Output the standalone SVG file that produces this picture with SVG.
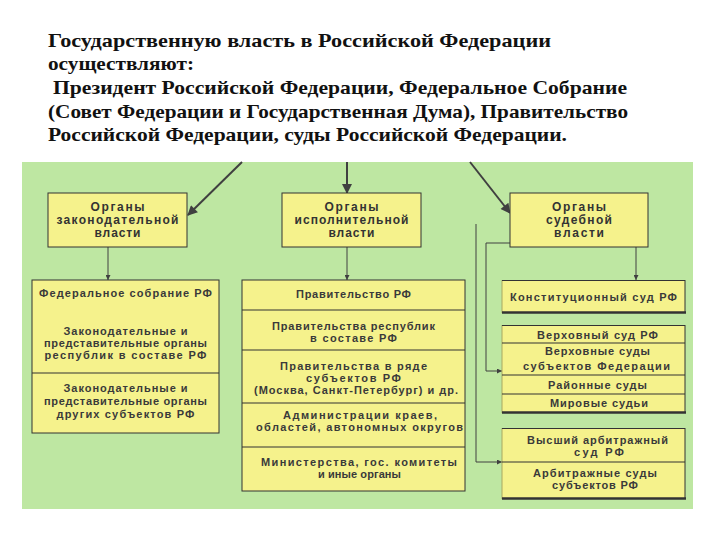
<svg xmlns="http://www.w3.org/2000/svg" width="720" height="540" viewBox="0 0 720 540">
<defs>
<marker id="ah" viewBox="0 0 10 10" refX="10" refY="5" markerWidth="7" markerHeight="5" markerUnits="userSpaceOnUse" orient="auto"><path d="M0,0 L10,5 L0,10 z" fill="#404040"/></marker>
<marker id="ahBig" viewBox="0 0 10 10" refX="9" refY="5" markerWidth="14" markerHeight="10" markerUnits="userSpaceOnUse" orient="auto"><path d="M0,0 L10,5 L0,10 z" fill="#404040"/></marker>
<style>
.h{font-family:"Liberation Serif","DejaVu Serif",serif;font-weight:bold;font-size:19px;fill:#111}
.t{font-family:"Liberation Sans",Arial,sans-serif;font-weight:bold;font-size:12px;fill:#333;text-anchor:middle}
.s{font-family:"Liberation Sans",Arial,sans-serif;font-weight:bold;font-size:11px;fill:#3a3a3a;text-anchor:middle}
.box{fill:#f5f28c;stroke:#333;stroke-width:1}
.fill{fill:#f5f28c}
.ln{stroke:#333;stroke-width:1;fill:none}
.thick{stroke:#333;stroke-width:2.5;fill:none}
.lite{stroke:#a8a860;stroke-width:1;fill:none}
.c{stroke:#404040;stroke-width:1;fill:none}
.cb{stroke:#404040;stroke-width:2;fill:none}
</style>
</defs>
<rect width="720" height="540" fill="#ffffff"/>
<g id="header">
<text class="h" x="48" y="47" textLength="503" lengthAdjust="spacingAndGlyphs">Государственную  власть  в  Российской  Федерации</text>
<text class="h" x="48" y="70" textLength="146" lengthAdjust="spacingAndGlyphs">осуществляют:</text>
<text class="h" x="53" y="94" textLength="574" lengthAdjust="spacingAndGlyphs">Президент Российской Федерации,  Федеральное Собрание</text>
<text class="h" x="48" y="118" textLength="580" lengthAdjust="spacingAndGlyphs">(Совет Федерации и Государственная Дума), Правительство</text>
<text class="h" x="48" y="141" textLength="519" lengthAdjust="spacingAndGlyphs">Российской Федерации, суды Российской Федерации.</text>
</g>
<rect id="bg" x="22" y="162" width="671" height="347" fill="#bee7a2"/>
<g id="connectors">
<line class="cb" x1="242" y1="162" x2="188" y2="215" marker-end="url(#ahBig)"/>
<line class="cb" x1="347" y1="162" x2="347" y2="193" marker-end="url(#ahBig)"/>
<line class="cb" x1="470" y1="162" x2="510" y2="213" marker-end="url(#ahBig)"/>
<line class="c" x1="108" y1="247" x2="108" y2="280" marker-end="url(#ah)"/>
<line class="c" x1="347" y1="247" x2="347" y2="280" marker-end="url(#ah)"/>
<line class="c" x1="636" y1="247" x2="636" y2="280" marker-end="url(#ah)"/>
<polyline class="c" points="510,243 486,243 486,371 502,371" marker-end="url(#ah)"/>
<polyline class="c" points="476,224 476,462 502,462" marker-end="url(#ah)"/>
</g>
<g id="leg-top">
<rect class="box" x="48" y="193" width="139" height="54"/>
<text class="t" x="117.5" y="211" textLength="54">Органы</text>
<text class="t" x="117.5" y="224" textLength="122">законодательной</text>
<text class="t" x="117.5" y="237" textLength="46">власти</text>
</g>
<g id="exe-top">
<rect class="box" x="282" y="193" width="139" height="54"/>
<text class="t" x="351.5" y="211" textLength="54">Органы</text>
<text class="t" x="351.5" y="224" textLength="114">исполнительной</text>
<text class="t" x="351.5" y="237" textLength="46">власти</text>
</g>
<g id="jud-top">
<rect class="box" x="510" y="193" width="138" height="54"/>
<text class="t" x="579" y="211" textLength="54">Органы</text>
<text class="t" x="579" y="224" textLength="66">судебной</text>
<text class="t" x="579" y="237" textLength="50">власти</text>
</g>
<g id="leg-list">
<rect class="box" x="32" y="280" width="187" height="153"/>
<line class="ln" x1="32" y1="373" x2="219" y2="373"/>
<text class="s" x="125.5" y="297" textLength="173">Федеральное собрание РФ</text>
<text class="s" x="125.5" y="335" textLength="124">Законодательные и</text>
<text class="s" x="125.5" y="347" textLength="163">представительные органы</text>
<text class="s" x="125.5" y="359" textLength="162">республик в составе РФ</text>
<text class="s" x="125.5" y="392" textLength="124">Законодательные и</text>
<text class="s" x="125.5" y="405" textLength="163">представительные органы</text>
<text class="s" x="125.5" y="418" textLength="138">других субъектов РФ</text>
</g>
<g id="exe-list">
<rect class="box" x="242" y="280" width="223" height="211"/>
<line class="ln" x1="242" y1="310" x2="465" y2="310"/>
<line class="ln" x1="242" y1="350" x2="465" y2="350"/>
<line class="ln" x1="242" y1="403" x2="465" y2="403"/>
<line class="ln" x1="242" y1="447" x2="465" y2="447"/>
<text class="s" x="353.5" y="298" textLength="115">Правительство РФ</text>
<text class="s" x="353.5" y="330" textLength="163">Правительства республик</text>
<text class="s" x="353.5" y="342" textLength="87">в составе РФ</text>
<text class="s" x="353.5" y="370" textLength="147">Правительства в ряде</text>
<text class="s" x="353.5" y="382" textLength="95">субъектов РФ</text>
<text class="s" x="356" y="394" textLength="204">(Москва, Санкт-Петербург) и др.</text>
<text class="s" x="360" y="419" textLength="154">Администрации краев,</text>
<text class="s" x="359.5" y="431" textLength="207">областей, автономных округов</text>
<text class="s" x="359" y="466" textLength="196">Министерства, гос. комитеты</text>
<text class="s" x="359.5" y="478" textLength="83">и иные органы</text>
</g>
<g id="const-court">
<rect class="fill" x="502" y="280" width="183" height="33"/>
<line class="lite" x1="502" y1="280" x2="502" y2="313"/>
<line class="ln" x1="502" y1="280.5" x2="685" y2="280.5"/>
<line class="ln" x1="685" y1="280" x2="685" y2="313"/>
<line class="thick" x1="502" y1="312.5" x2="686" y2="312.5"/>
<text class="s" x="593.5" y="301" textLength="167">Конституционный суд РФ</text>
</g>
<g id="general-courts">
<rect class="fill" x="502" y="325" width="183" height="88"/>
<line class="lite" x1="502" y1="325" x2="502" y2="413"/>
<line class="ln" x1="502" y1="325.5" x2="685" y2="325.5"/>
<line class="ln" x1="685" y1="325" x2="685" y2="413"/>
<line class="ln" x1="502" y1="343" x2="685" y2="343"/>
<line class="ln" x1="502" y1="375" x2="685" y2="375"/>
<line class="ln" x1="502" y1="394" x2="685" y2="394"/>
<line class="thick" x1="502" y1="412.5" x2="686" y2="412.5"/>
<text class="s" x="597.5" y="339" textLength="121">Верховный суд РФ</text>
<text class="s" x="597.5" y="355" textLength="105">Верховные суды</text>
<text class="s" x="596.5" y="370" textLength="147">субъектов Федерации</text>
<text class="s" x="597.5" y="389" textLength="99">Районные суды</text>
<text class="s" x="599" y="407" textLength="98">Мировые судьи</text>
</g>
<g id="arbitration-courts">
<rect class="fill" x="502" y="428" width="183" height="71"/>
<line class="lite" x1="502" y1="428" x2="502" y2="499"/>
<line class="ln" x1="502" y1="428.5" x2="685" y2="428.5"/>
<line class="ln" x1="685" y1="428" x2="685" y2="499"/>
<line class="ln" x1="502" y1="462" x2="685" y2="462"/>
<line class="thick" x1="502" y1="498.5" x2="686" y2="498.5"/>
<text class="s" x="597.5" y="444" textLength="141">Высший арбитражный</text>
<text class="s" x="599" y="456" textLength="50">суд РФ</text>
<text class="s" x="595" y="477" textLength="124">Арбитражные суды</text>
<text class="s" x="595" y="489" textLength="86">субъектов РФ</text>
</g>
</svg>
